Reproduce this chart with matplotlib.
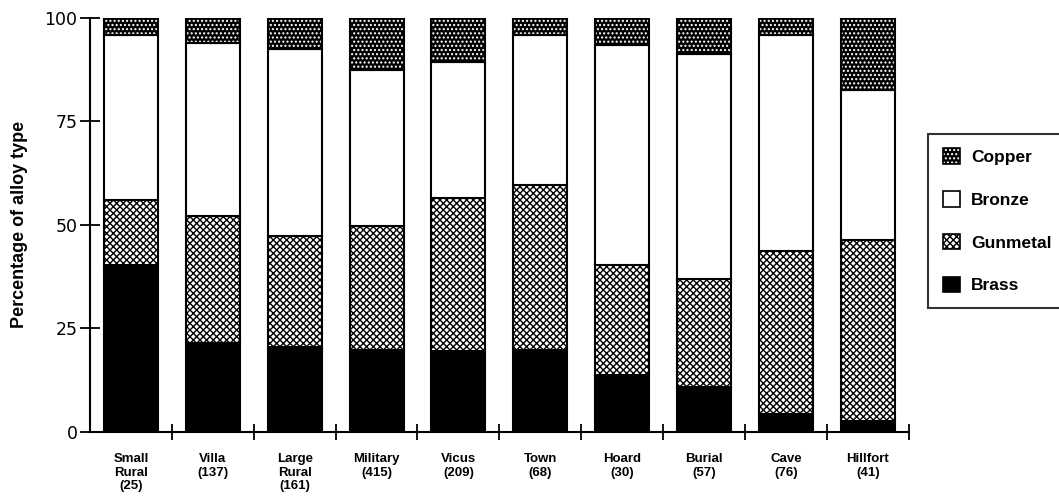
import matplotlib
matplotlib.use('Agg')
import matplotlib.pyplot as plt
import matplotlib.patches as mpatches
from matplotlib.legend_handler import HandlerTuple
import numpy as np

plt.rcParams['font.family'] = ['Liberation Sans', 'DejaVu Sans']
plt.rcParams['hatch.linewidth'] = 1.0

# site types and number of objects per site
sites  = ['Small\nRural\n(25)', 'Villa\n(137)', 'Large\nRural\n(161)',
          'Military\n(415)', 'Vicus\n(209)', 'Town\n(68)', 'Hoard\n(30)',
          'Burial\n(57)', 'Cave\n(76)', 'Hillfort\n(41)']

# percentage of each alloy type (stacked bottom to top)
brass    = [40.3, 21.4, 20.6, 19.8, 19.6, 19.8, 13.8, 10.9, 4.3, 2.7]
gunmetal = [15.7, 30.6, 26.8, 30.0, 36.8, 39.7, 26.5, 26.1, 39.3, 43.7]
bronze   = [39.7, 41.8, 45.0, 37.5, 32.8, 36.2, 53.2, 54.2, 52.1, 36.2]
copper   = [4.3, 6.2, 7.6, 12.7, 10.8, 4.3, 6.5, 8.8, 4.3, 17.4]

STYLES = {
    'Brass':    dict(facecolor='black', hatchcol='black', hatch=None),
    'Gunmetal': dict(facecolor='white', hatchcol='black', hatch='xxxxx'),
    'Bronze':   dict(facecolor='white', hatchcol='white', hatch=None),
    'Copper':   dict(facecolor='black', hatchcol='white', hatch='....'),
}

fig = plt.figure(figsize=(10.59, 5.04), dpi=100)
ax = fig.add_axes([0.085, 0.143, 0.773, 0.822])

x = np.arange(len(sites)) + 0.5
width = 0.66
bottom = np.zeros(len(sites))
for name, vals in [('Brass', brass), ('Gunmetal', gunmetal),
                   ('Bronze', bronze), ('Copper', copper)]:
    s = STYLES[name]
    # filled/hatched layer, then black outline on top
    ax.bar(x, vals, width, bottom=bottom, color=s['facecolor'],
           edgecolor=s['hatchcol'], hatch=s['hatch'], linewidth=0)
    ax.bar(x, vals, width, bottom=bottom, fill=False,
           edgecolor='black', linewidth=1.5)
    bottom += np.array(vals)

ax.set_xlim(0, len(sites))
ax.set_ylim(0, 100)
ax.spines['top'].set_visible(False)
ax.spines['right'].set_visible(False)
ax.spines['left'].set_linewidth(1.5)
ax.spines['bottom'].set_linewidth(1.5)

ax.set_yticks([0, 25, 50, 75, 100])
ax.tick_params(axis='y', direction='inout', length=14, width=1.3,
               labelsize=12.5, pad=2)
for lab in ax.get_yticklabels():
    lab.set_family('DejaVu Sans')
ax.set_xticks(np.arange(1, len(sites) + 1))
ax.set_xticklabels([])
ax.tick_params(axis='x', which='major', direction='inout', length=12,
               width=1.3)
ax.set_xticks(x, minor=True)
ax.set_xticklabels(sites, minor=True, fontsize=9.5, fontweight='bold',
                   linespacing=1.2)
ax.tick_params(axis='x', which='minor', length=0, pad=15)

ax.set_ylabel('Percentage of alloy type', fontsize=13, fontweight='bold',
              labelpad=12)

handles = []
for name in ['Copper', 'Bronze', 'Gunmetal', 'Brass']:
    s = STYLES[name]
    fill = mpatches.Patch(facecolor=s['facecolor'], edgecolor=s['hatchcol'],
                          hatch=s['hatch'], linewidth=0)
    edge = mpatches.Patch(fill=False, edgecolor='black', linewidth=1.2)
    handles.append((fill, edge))
leg = ax.legend(handles, ['Copper', 'Bronze', 'Gunmetal', 'Brass'],
                handler_map={tuple: HandlerTuple(ndivide=1, pad=0)},
                loc='upper left', bbox_to_anchor=(1.024, 0.72),
                frameon=True, fancybox=False, edgecolor='black',
                prop={'weight': 'bold', 'size': 12.5},
                handlelength=1.0, handleheight=1.0, handletextpad=0.6,
                labelspacing=1.5, borderpad=0.85, borderaxespad=0)
leg.get_frame().set_linewidth(1.5)

fig.savefig('out.png', dpi=100)
